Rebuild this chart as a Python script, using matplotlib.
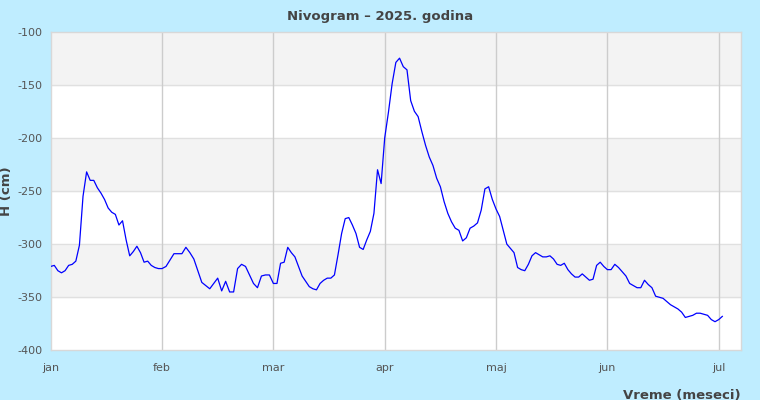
import matplotlib
matplotlib.use("Agg")
import matplotlib.pyplot as plt
import numpy as np

plt.rcParams["axes.unicode_minus"] = False

# daily water level readings (cm), one list per month
jan = [-321, -320, -325, -327, -325, -320, -319, -316, -301, -255, -232, -240,
       -240, -247, -252, -258, -266, -270, -272, -282, -278, -296, -311, -307,
       -302, -308, -317, -316, -320, -322, -323]
feb = [-323, -321, -315, -309, -309, -309, -303, -308, -314, -325, -336, -339,
       -342, -337, -332, -344, -335, -345, -345, -323, -319, -321, -329, -337,
       -341, -330, -329, -329]
mar = [-337, -337, -318, -317, -303, -308, -312, -321, -330, -335, -340, -342,
       -343, -337, -334, -332, -332, -329, -310, -290, -276, -275, -282, -290,
       -303, -305, -296, -288, -271, -230, -243]
apr = [-200, -176, -149, -129, -125, -133, -136, -165, -175, -180, -194, -207,
       -218, -226, -238, -246, -260, -271, -279, -285, -287, -297, -294, -285,
       -283, -280, -268, -248, -246, -258]
maj = [-267, -274, -287, -300, -304, -308, -322, -324, -325, -319, -311, -308,
       -310, -312, -312, -311, -314, -319, -320, -318, -324, -328, -331, -331,
       -328, -331, -334, -333, -320, -317, -321]
jun = [-324, -324, -319, -322, -326, -330, -337, -339, -341, -341, -334, -338,
       -341, -349, -350, -351, -354, -357, -359, -361, -364, -369, -368, -367,
       -365, -365, -366, -367, -371, -373]
jul = [-371, -368]

months = [jan, feb, mar, apr, maj, jun, jul]
month_days = [31, 28, 31, 30, 31, 30, 31]
month_labels = ["jan", "feb", "mar", "apr", "maj", "jun", "jul"]

# x position in "months", each month gets the same width
x = []
y = []
for m, vals in enumerate(months):
    for d, v in enumerate(vals):
        x.append(m + d / month_days[m])
        y.append(v)

bg = "#bfedff"
fig = plt.figure(figsize=(7.6, 4.0), dpi=100, facecolor=bg)
ax = fig.add_axes([0.0667, 0.124, 0.9083, 0.797])
ax.set_facecolor("white")

# alternating bands
for lo in range(-400, -100, 50):
    if (lo // 50) % 2 == 0:
        ax.axhspan(lo, lo + 50, color="white", zorder=0)
    else:
        ax.axhspan(lo, lo + 50, color="#f3f3f3", zorder=0)

for v in range(-350, -100, 50):
    ax.axhline(v, color="#e0e0e0", lw=1, zorder=1)
for m in range(1, 7):
    ax.axvline(m, color="#cccccc", lw=1, zorder=1)

ax.plot(x, y, color="#0000ff", lw=0.9, zorder=3)

ax.set_xlim(0, 6.2)
ax.set_ylim(-400, -100)
ax.set_xticks(range(7))
ax.set_xticklabels(month_labels)
ax.set_yticks(range(-400, -99, 50))
ax.tick_params(axis="both", length=0, labelsize=8, colors="#555555")
ax.tick_params(axis="x", pad=9)
ax.tick_params(axis="y", pad=6)
for s in ax.spines.values():
    s.set_color("#d8d8d8")
    s.set_linewidth(1)

fig.text(0.5, 0.958, "Nivogram – 2025. godina", ha="center", va="center",
         fontsize=9.5, fontweight="bold", color="#444444")
fig.text(0.0, 0.522, "H (cm)", rotation=90, ha="left", va="center",
         fontsize=9.5, fontweight="bold", color="#444444")
fig.text(0.975, 0.012, "Vreme (meseci)", ha="right", va="center",
         fontsize=9.5, fontweight="bold", color="#444444")

fig.savefig("out.png", dpi=100, facecolor=bg)
